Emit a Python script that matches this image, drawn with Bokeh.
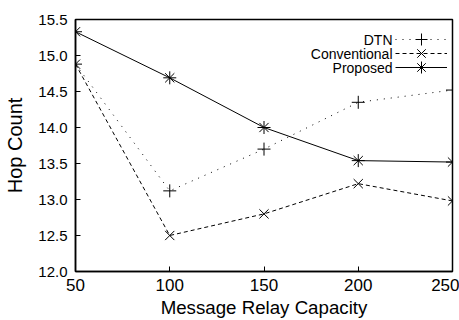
from bokeh.plotting import figure
from bokeh.models import Legend, LegendItem, Label, FixedTicker, Range1d, NumeralTickFormatter
from bokeh.embed import file_html
from bokeh.resources import INLINE

capacity = [50, 100, 150, 200, 250]
dtn = [14.88, 13.12, 13.70, 14.35, 14.52]
conventional = [14.88, 12.50, 12.80, 13.22, 12.98]
proposed = [15.33, 14.69, 14.00, 13.54, 13.52]
names = ["DTN", "Conventional", "Proposed"]
y_ticks = [12.0, 12.5, 13.0, 13.5, 14.0, 14.5, 15.0, 15.5]
x_ticks = [50, 100, 150, 200, 250]

FONT = "Liberation Sans"

p = figure(width=459, height=320, output_backend="svg", toolbar_location=None,
           x_range=Range1d(50, 250), y_range=Range1d(12.0, 15.5),
           min_border_left=75, min_border_right=7, min_border_top=19, min_border_bottom=47)
p.grid.visible = False
p.outline_line_color = "black"
p.outline_line_width = 1.5
p.background_fill_color = "white"

for ax in (p.xaxis[0], p.yaxis[0]):
    ax.major_tick_in = 5
    ax.major_tick_out = 0
    ax.minor_tick_line_color = None
    ax.axis_line_width = 1.5
    ax.major_label_text_font = FONT
    ax.axis_label_text_font = FONT
    ax.axis_label_text_font_style = "normal"
    ax.major_label_text_color = "black"
    ax.axis_label_text_color = "black"

p.xaxis.ticker = FixedTicker(ticks=x_ticks)
p.yaxis.ticker = FixedTicker(ticks=y_ticks)
p.yaxis.formatter = NumeralTickFormatter(format="0.0")
p.xaxis.major_label_text_font_size = "17px"
p.yaxis.major_label_text_font_size = "15px"
p.xaxis.major_label_standoff = 7
p.yaxis.major_label_standoff = 8
p.xaxis.axis_label = "Message Relay Capacity"
p.yaxis.axis_label = "Hop Count"
p.xaxis.axis_label_text_font_size = "18.7px"
p.yaxis.axis_label_text_font_size = "20px"
p.xaxis.axis_label_standoff = 3
p.yaxis.axis_label_standoff = 9

series = [(dtn, "1 6", "cross"), (conventional, "4 3", "x"), (proposed, "solid", "asterisk")]
legend_bottoms = [217, 203, 189]
label_y = [232, 218, 204]

for (vals, dash, marker), name, lb, ly in zip(series, names, legend_bottoms, label_y):
    l = p.line(capacity, vals, line_color="black", line_width=1, line_dash=dash)
    s = p.scatter(capacity, vals, marker=marker, size=13, line_color="black", line_width=1,
                  fill_color=None)
    leg = Legend(items=[LegendItem(label=" ", renderers=[l, s])], location=(320, lb),
                 glyph_width=52, glyph_height=30, label_width=0, label_standoff=0,
                 label_height=13, spacing=0, padding=0, margin=0,
                 border_line_color=None, background_fill_alpha=0,
                 label_text_font_size="1px")
    p.add_layout(leg)
    p.add_layout(Label(x=317, y=ly, x_units="screen", y_units="screen", text=name,
                       text_align="right", text_baseline="middle", text_font=FONT,
                       text_font_size="14px", text_color="black"))

open("out.html", "w").write(file_html(p, INLINE))
